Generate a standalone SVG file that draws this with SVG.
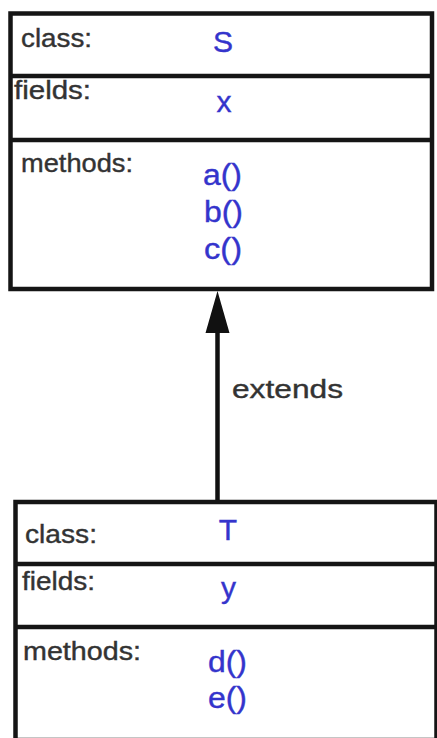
<svg xmlns="http://www.w3.org/2000/svg" width="437" height="738" viewBox="0 0 437 738">
  <style>
    .box { fill: #ffffff; stroke: #151515; stroke-width: 4.5; }
    .div { stroke: #151515; stroke-width: 4.5; }
    .lbl { font-family: "Liberation Sans", Arial, sans-serif; font-size: 26px; fill: #333333; stroke: #333333; stroke-width: 0.4; }
    .val { font-family: "Liberation Sans", Arial, sans-serif; font-size: 30px; fill: #3434cc; stroke: #3434cc; stroke-width: 0.4; }
    .mid { text-anchor: middle; }
    .conn { stroke: #111111; stroke-width: 4.5; fill: none; }
  </style>
  <defs>
    <marker id="arrow" markerUnits="userSpaceOnUse" markerWidth="44" markerHeight="26" refX="0" refY="12" orient="auto" overflow="visible">
      <path d="M0,0 L42,12 L0,24 z" fill="#111111"/>
    </marker>
  </defs>
  <rect x="0" y="0" width="437" height="738" fill="#ffffff"/>

  <g id="connectors">
    <path class="conn" d="M217.5,500 L217.5,333" marker-end="url(#arrow)"/>
    <text class="lbl" x="232" y="398" font-size="29" textLength="111" lengthAdjust="spacingAndGlyphs">extends</text>
  </g>

  <g id="classS">
    <rect class="box" x="10.5" y="13.5" width="421.5" height="275.5"/>
    <line class="div" x1="10.5" y1="76" x2="432" y2="76"/>
    <line class="div" x1="10.5" y1="140" x2="432" y2="140"/>
    <text class="lbl" x="21" y="47" textLength="71" lengthAdjust="spacingAndGlyphs">class:</text>
    <text class="lbl" x="14" y="99" textLength="77" lengthAdjust="spacingAndGlyphs">fields:</text>
    <text class="lbl" x="21" y="172" textLength="112" lengthAdjust="spacingAndGlyphs">methods:</text>
    <text class="val mid" x="223" y="52">S</text>
    <text class="val mid" x="224" y="112">x</text>
    <text class="val" x="203" y="185" textLength="39" lengthAdjust="spacingAndGlyphs">a()</text>
    <text class="val" x="204" y="222" textLength="39" lengthAdjust="spacingAndGlyphs">b()</text>
    <text class="val" x="204" y="259" textLength="38" lengthAdjust="spacingAndGlyphs">c()</text>
  </g>

  <g id="classT">
    <rect class="box" x="15.5" y="502" width="421" height="238"/>
    <line class="div" x1="15.5" y1="564" x2="437" y2="564"/>
    <line class="div" x1="15.5" y1="627" x2="437" y2="627"/>
    <text class="lbl" x="25" y="543" textLength="72" lengthAdjust="spacingAndGlyphs">class:</text>
    <text class="lbl" x="22" y="590" textLength="73" lengthAdjust="spacingAndGlyphs">fields:</text>
    <text class="lbl" x="23" y="660" textLength="118" lengthAdjust="spacingAndGlyphs">methods:</text>
    <text class="val mid" x="228" y="540">T</text>
    <text class="val mid" x="228.5" y="598">y</text>
    <text class="val" x="208" y="672" textLength="39" lengthAdjust="spacingAndGlyphs">d()</text>
    <text class="val" x="208" y="708" textLength="39" lengthAdjust="spacingAndGlyphs">e()</text>
  </g>
</svg>
